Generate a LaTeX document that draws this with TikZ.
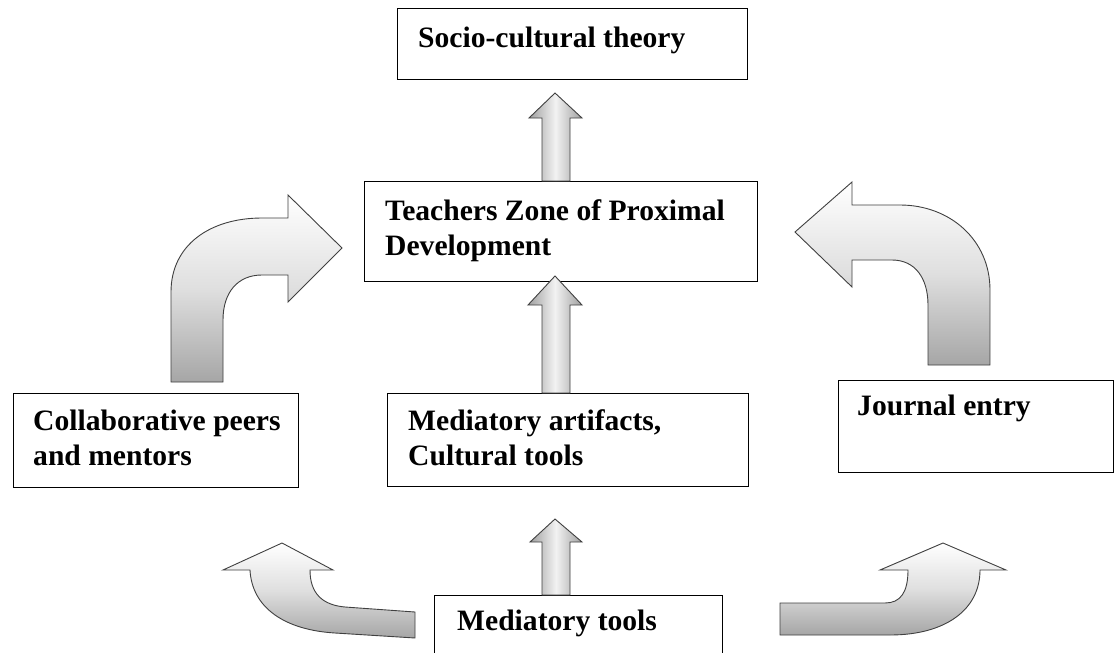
\documentclass[tikz,border=0pt]{standalone}
\usepackage{fontspec}
\setmainfont{Liberation Serif}
\begin{document}
\begin{tikzpicture}[x=1pt,y=-1pt,
  box/.style={draw=black,line width=1.4pt,fill=white,inner sep=0pt,anchor=north west},
  txt/.style={font=\bfseries\fontsize{29.6}{35}\selectfont,align=left,inner sep=0pt,anchor=base west},
  blockarrow/.style={draw=gray!50!black,line width=0.9pt,top color=white,bottom color=gray!70,middle color=gray!25},
  vblock/.style={draw=gray!50!black,line width=0.9pt,left color=gray!75,right color=gray!75,middle color=gray!10}]
\path[use as bounding box,clip] (0,0) rectangle (1116,653);
\fill[white] (0,0) rectangle (1116,653);

% boxes
\node[box,minimum width=350pt,minimum height=71pt] (soc) at (397,8) {};
\node[box,minimum width=393pt,minimum height=100pt] (zpd) at (364,181) {};
\node[box,minimum width=285pt,minimum height=94pt] (col) at (13,393) {};
\node[box,minimum width=361pt,minimum height=93pt] (art) at (387,393) {};
\node[box,minimum width=275pt,minimum height=92pt] (jou) at (838,380) {};
\node[box,minimum width=288pt,minimum height=80pt] (med) at (434,595) {};

% texts (base anchor = baseline of the last line)
\node[txt] (soct) at (418,47) {Socio-cultural theory};
\node[txt] (zpdt) at (385,255) {Teachers Zone of Proximal\\Development};
\node[txt] (colt) at (33,465) {Collaborative peers\\and mentors};
\node[txt] (artt) at (408,465) {Mediatory artifacts,\\Cultural tools};
\node[txt] (jout) at (857,415) {Journal entry};
\node[txt] (medt) at (457,630) {Mediatory tools};

% straight block arrows
\draw[vblock] (zpd.north -| 542,0) -- (542,118) -- (529,118) -- (555,93) -- (582,118) -- (570,118) -- (zpd.north -| 570,0) -- cycle;
\draw[vblock] (art.north -| 542,0) -- (542,305) -- (528,305) -- (555,276) -- (582,305) -- (570,305) -- (art.north -| 570,0) -- cycle;
\draw[vblock] (med.north -| 542,0) -- (542,542) -- (530,542) -- (555,519) -- (582,542) -- (570,542) -- (med.north -| 570,0) -- cycle;

% left bent arrow (collaborative -> zpd)
\draw[blockarrow] (171,382) -- (171,292) .. controls (171,245) and (210,218) .. (262,218)
  -- (288,218) -- (288,195) -- (342,248) -- (288,302) -- (288,275) -- (262,275)
  .. controls (238,275) and (223,292) .. (223,320) -- (223,382) -- cycle;

% right bent arrow (journal -> zpd)
\draw[blockarrow] (990,365) -- (990,290) .. controls (990,240) and (950,205) .. (900,205)
  -- (852,205) -- (852,182) -- (795,232) -- (852,287) -- (852,260) -- (892,260)
  .. controls (915,260) and (928,278) .. (928,305) -- (928,365) -- cycle;

% bottom-left arrow (mediatory tools -> collaborative)
\draw[blockarrow] (415,612) -- (345,607) .. controls (322,605) and (310,593) .. (310,570)
  -- (333,570) -- (282,543) -- (223,570) -- (250,570)
  .. controls (252,608) and (285,630) .. (335,633) -- (415,638) -- cycle;

% bottom-right arrow (mediatory tools -> journal)
\draw[blockarrow] (780,603) -- (885,603) .. controls (900,603) and (908,593) .. (908,570)
  -- (880,570) -- (943,543) -- (1006,570) -- (980,570)
  .. controls (980,610) and (945,635) .. (890,635) -- (780,635) -- cycle;
\end{tikzpicture}
\end{document}
